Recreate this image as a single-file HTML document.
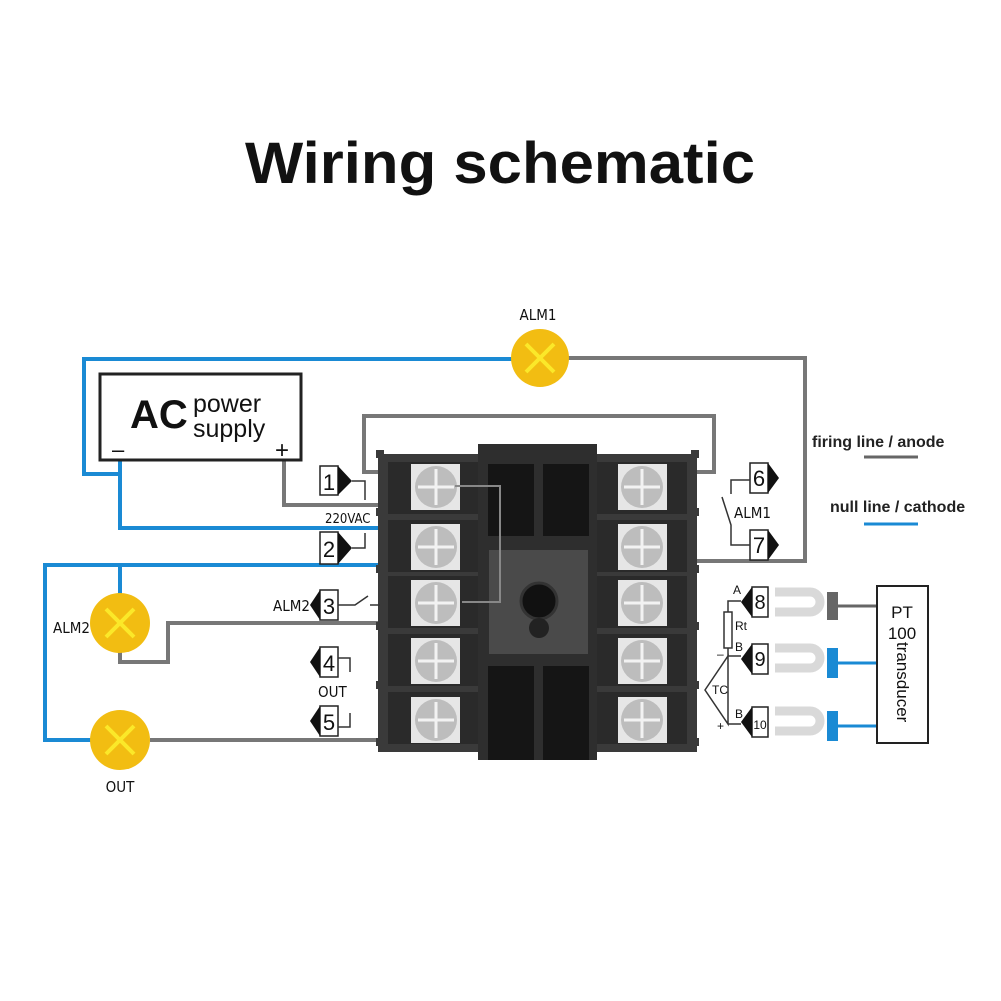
<!DOCTYPE html>
<html><head><meta charset="utf-8"><style>
html,body{margin:0;padding:0;background:#fff}
svg{display:block}
text{font-family:"Liberation Sans","DejaVu Sans",sans-serif}
.n{font-family:"DejaVu Sans Condensed","Liberation Sans",sans-serif}
</style></head><body>
<svg width="1001" height="1001" viewBox="0 0 1001 1001" xmlns="http://www.w3.org/2000/svg">
<text x="245" y="183" font-size="58" font-weight="bold" fill="#111" font-family="DejaVu Sans, sans-serif" textLength="510" lengthAdjust="spacingAndGlyphs">Wiring schematic</text>

<!-- wires -->
<g fill="none" stroke-width="4">
<polyline stroke="#1a8ad4" points="515,359 84,359 84,474 120,474"/>
<polyline stroke="#1a8ad4" points="120,460 120,528 378,528"/>
<polyline stroke="#1a8ad4" points="378,565 45,565 45,740 95,740"/>
<polyline stroke="#1a8ad4" points="120,565 120,596"/>
<polyline stroke="#777" points="566,358 805,358 805,561 697,561"/>
<polyline stroke="#777" points="284,460 284,505 378,505"/>
<polyline stroke="#777" points="378,472 364,472 364,416 714,416 714,472 697,472"/>
<polyline stroke="#777" points="120,652 120,662 168,662 168,623 378,623"/>
<polyline stroke="#777" points="150,740 378,740"/>
</g>

<!-- AC box -->
<rect x="100" y="374" width="201" height="86" fill="#fff" stroke="#222" stroke-width="3"/>
<text x="130" y="428" font-size="40" font-weight="bold" fill="#111">AC</text>
<text x="193" y="412" font-size="25" fill="#111">power</text>
<text x="193" y="437" font-size="25" fill="#111">supply</text>
<text x="112" y="457" font-size="22" fill="#111">–</text>
<text x="275" y="458" font-size="24" fill="#111">+</text>

<!-- lamps -->
<g>
<circle cx="540" cy="358" r="29" fill="#f2bd12"/>
<path d="M526,344 L554,372 M554,344 L526,372" stroke="#fbe829" stroke-width="4"/>
<circle cx="120" cy="623" r="30" fill="#f2bd12"/>
<path d="M106,609 L134,637 M134,609 L106,637" stroke="#fbe829" stroke-width="4"/>
<circle cx="120" cy="740" r="30" fill="#f2bd12"/>
<path d="M106,726 L134,754 M134,726 L106,754" stroke="#fbe829" stroke-width="4"/>
</g>
<text class="n" x="538" y="320" text-anchor="middle" font-size="15" fill="#111">ALM1</text>
<text class="n" x="53" y="633" font-size="15" fill="#111">ALM2</text>
<text class="n" x="120" y="792" text-anchor="middle" font-size="15" fill="#111">OUT</text>

<!-- controller -->
<rect x="378" y="454" width="319" height="298" fill="#3a3a3a"/>
<g fill="#3a3a3a">
<rect x="376" y="450" width="8" height="8"/><rect x="376" y="508" width="8" height="8"/><rect x="376" y="565" width="8" height="8"/><rect x="376" y="622" width="8" height="8"/><rect x="376" y="681" width="8" height="8"/><rect x="376" y="738" width="8" height="8"/>
<rect x="691" y="450" width="8" height="8"/><rect x="691" y="508" width="8" height="8"/><rect x="691" y="565" width="8" height="8"/><rect x="691" y="622" width="8" height="8"/><rect x="691" y="681" width="8" height="8"/><rect x="691" y="738" width="8" height="8"/>
</g>
<g fill="#2a2a2a">
<rect x="388" y="462" width="90" height="52"/><rect x="388" y="520" width="90" height="52"/><rect x="388" y="576" width="90" height="52"/><rect x="388" y="634" width="90" height="52"/><rect x="388" y="692" width="90" height="52"/>
<rect x="597" y="462" width="90" height="52"/><rect x="597" y="520" width="90" height="52"/><rect x="597" y="576" width="90" height="52"/><rect x="597" y="634" width="90" height="52"/><rect x="597" y="692" width="90" height="52"/>
</g>
<rect x="478" y="444" width="119" height="316" fill="#2e2e2e"/>
<rect x="488" y="464" width="46" height="72" fill="#151515"/><rect x="543" y="464" width="46" height="72" fill="#151515"/>
<rect x="488" y="666" width="46" height="94" fill="#151515"/><rect x="543" y="666" width="46" height="94" fill="#151515"/>
<rect x="489" y="550" width="99" height="104" fill="#4a4a4a"/>
<circle cx="539" cy="601" r="18" fill="#111" stroke="#333" stroke-width="3"/>
<ellipse cx="539" cy="628" rx="10" ry="10" fill="#222"/>
<g>
<g fill="#e6e6e6">
<rect x="411" y="464" width="49" height="46"/><rect x="411" y="524" width="49" height="46"/><rect x="411" y="580" width="49" height="46"/><rect x="411" y="638" width="49" height="46"/><rect x="411" y="697" width="49" height="46"/>
<rect x="618" y="464" width="49" height="46"/><rect x="618" y="524" width="49" height="46"/><rect x="618" y="580" width="49" height="46"/><rect x="618" y="638" width="49" height="46"/><rect x="618" y="697" width="49" height="46"/>
</g>
<g fill="#bdbdbd">
<circle cx="436" cy="487" r="21"/><circle cx="436" cy="547" r="21"/><circle cx="436" cy="603" r="21"/><circle cx="436" cy="661" r="21"/><circle cx="436" cy="720" r="21"/>
<circle cx="642" cy="487" r="21"/><circle cx="642" cy="547" r="21"/><circle cx="642" cy="603" r="21"/><circle cx="642" cy="661" r="21"/><circle cx="642" cy="720" r="21"/>
</g>
<g stroke="#f2f2f2" stroke-width="3">
<path d="M418,487h36M436,469v36M418,547h36M436,529v36M418,603h36M436,585v36M418,661h36M436,643v36M418,720h36M436,702v36"/>
<path d="M624,487h36M642,469v36M624,547h36M642,529v36M624,603h36M642,585v36M624,661h36M642,643v36M624,720h36M642,702v36"/>
</g>
</g>
<polyline points="455,486 500,486 500,602 462,602" fill="none" stroke="#888" stroke-width="2"/>

<!-- left terminal labels -->
<g stroke="#222" stroke-width="1.5" fill="#fff">
<rect x="320" y="466" width="18" height="29"/><rect x="320" y="532" width="18" height="32"/>
<rect x="320" y="590" width="18" height="30"/><rect x="320" y="647" width="18" height="30"/><rect x="320" y="706" width="18" height="30"/>
</g>
<g fill="#111">
<polygon points="338,466 352,481 338,495"/><polygon points="338,532 352,548 338,564"/>
<polygon points="320,590 310,605 320,620"/><polygon points="320,647 310,662 320,677"/><polygon points="320,706 310,721 320,736"/>
</g>
<g class="n" font-size="22" fill="#111" text-anchor="middle">
<text x="329" y="490">1</text><text x="329" y="557">2</text><text x="329" y="614">3</text><text x="329" y="671">4</text><text x="329" y="730">5</text>
</g>
<g fill="none" stroke="#333" stroke-width="1.5">
<polyline points="352,481 365,481 365,500"/><polyline points="352,548 365,548 365,533"/>
<polyline points="338,605 355,605 368,596"/><line x1="370" y1="605" x2="380" y2="605"/>
<polyline points="338,658 350,658 350,672"/><polyline points="338,727 350,727 350,713"/>
</g>
<text class="n" x="325" y="523" font-size="13" fill="#111">220VAC</text>
<text class="n" x="273" y="611" font-size="15" fill="#111">ALM2</text>
<text class="n" x="318" y="697" font-size="15" fill="#111">OUT</text>

<!-- right ALM1 labels -->
<g stroke="#222" stroke-width="1.5" fill="#fff">
<rect x="750" y="463" width="18" height="30"/><rect x="750" y="530" width="18" height="30"/>
</g>
<g fill="#111"><polygon points="768,463 779,478 768,493"/><polygon points="768,530 779,545 768,560"/></g>
<g class="n" font-size="22" fill="#111" text-anchor="middle"><text x="759" y="486">6</text><text x="759" y="553">7</text></g>
<g fill="none" stroke="#333" stroke-width="1.5">
<polyline points="750,480 731,480 731,494"/><polyline points="750,545 731,545 731,525 722,497"/>
</g>
<text class="n" x="734" y="518" font-size="15" fill="#111">ALM1</text>

<!-- legend -->
<text x="812" y="447" font-size="16" font-weight="bold" fill="#222">firing line  / anode</text>
<line x1="864" y1="457" x2="918" y2="457" stroke="#666" stroke-width="3"/>
<text x="830" y="512" font-size="16" font-weight="bold" fill="#222">null line / cathode</text>
<line x1="864" y1="524" x2="918" y2="524" stroke="#1a8ad4" stroke-width="3"/>

<!-- sensor terminals -->
<g stroke="#222" stroke-width="1.5" fill="#fff">
<rect x="752" y="587" width="16" height="30"/><rect x="752" y="644" width="16" height="30"/><rect x="752" y="707" width="16" height="30"/>
</g>
<g fill="#111"><polygon points="752,587 741,602 752,617"/><polygon points="752,644 741,659 752,674"/><polygon points="752,707 741,722 752,737"/></g>
<g class="n" font-size="20" fill="#111" text-anchor="middle"><text x="760" y="609">8</text><text x="760" y="666">9</text><text x="760" y="729" font-size="12">10</text></g>
<g fill="none" stroke="#333" stroke-width="1.5">
<polyline points="741,601 728,601 728,612"/><rect x="724" y="612" width="8" height="36"/><polyline points="728,648 728,656 741,656"/>
<polygon points="705,690 728,656 728,724"/><line x1="728" y1="724" x2="741" y2="724"/>
</g>
<g class="n" font-size="12" fill="#111"><text x="733" y="594">A</text><text x="735" y="630">Rt</text><text x="735" y="651">B</text><text x="735" y="718">B</text><text x="712" y="694">TC</text><text x="717" y="658">–</text><text x="717" y="730">+</text></g>

<!-- forks -->
<g fill="none" stroke="#d9d9d9" stroke-width="9">
<path d="M775,592 H810 a10,10 0 0 1 0,20 H775"/>
<path d="M775,648 H810 a10,10 0 0 1 0,20 H775"/>
<path d="M775,711 H810 a10,10 0 0 1 0,20 H775"/>
</g>
<rect x="827" y="592" width="11" height="28" fill="#666"/>
<rect x="827" y="648" width="11" height="30" fill="#1a8ad4"/>
<rect x="827" y="711" width="11" height="30" fill="#1a8ad4"/>
<line x1="838" y1="606" x2="877" y2="606" stroke="#666" stroke-width="3"/>
<line x1="838" y1="663" x2="877" y2="663" stroke="#1a8ad4" stroke-width="3"/>
<line x1="838" y1="726" x2="877" y2="726" stroke="#1a8ad4" stroke-width="3"/>
<rect x="877" y="586" width="51" height="157" fill="#fff" stroke="#222" stroke-width="2"/>
<text x="902" y="618" text-anchor="middle" font-size="17" fill="#111">PT</text>
<text x="902" y="639" text-anchor="middle" font-size="17" fill="#111">100</text>
<text x="0" y="0" font-size="17" fill="#111" transform="translate(897,642) rotate(90)">transducer</text>
</svg>
</body></html>
